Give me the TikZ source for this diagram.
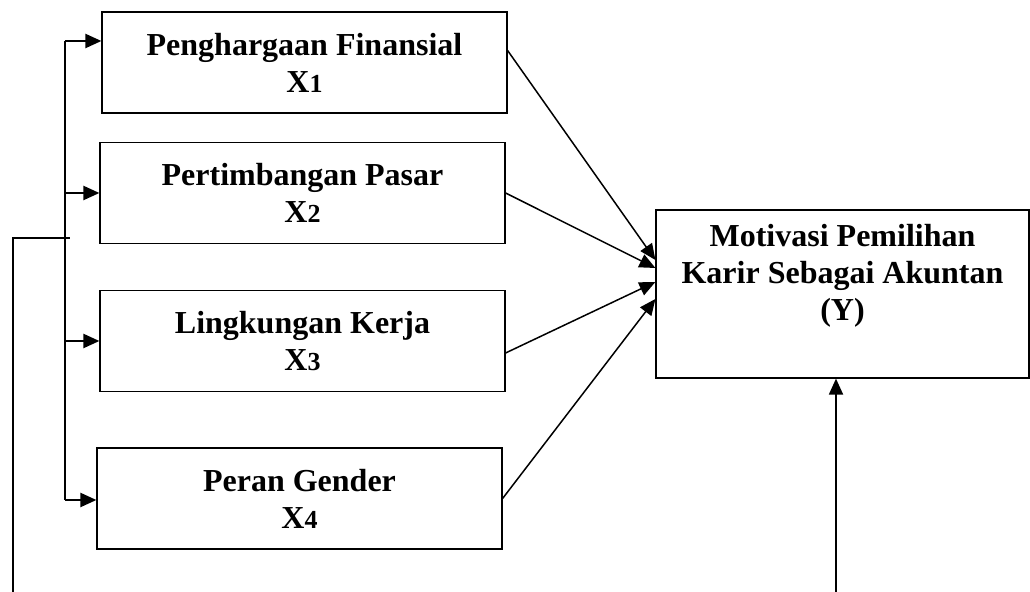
\documentclass[tikz,border=0pt]{standalone}
\usepackage{fontspec}
\setmainfont{Liberation Serif}
\usetikzlibrary{arrows.meta}
\newcommand{\vnum}[1]{{\fontsize{13}{15}\selectfont #1}}
\begin{document}
\begin{tikzpicture}[x=0.5pt, y=-0.5pt,
  var/.style={draw, line width=0.6pt, minimum width=202.5pt, minimum height=50.5pt, inner sep=0pt, align=center, font=\fontsize{16}{18.5}\selectfont\bfseries},
  tip/.style={-{Triangle[length=8pt, width=7pt]}}]
\useasboundingbox (0,0) rectangle (1030,592);
\node[var] (x1) at (304.5,62.5) {Penghargaan Finansial\\X\vnum{1}};
\node[var] (x2) at (302.5,193) {Pertimbangan Pasar\\X\vnum{2}};
\node[var] (x3) at (302.5,341) {Lingkungan Kerja\\X\vnum{3}};
\node[var] (x4) at (299.5,498.5) {Peran Gender\\X\vnum{4}};
\node[var, minimum width=186.5pt, minimum height=84pt, text depth=22pt] (y) at (842.5,294)
{Motivasi Pemilihan\\Karir Sebagai Akuntan\\(Y)};
% bracket on the left
\coordinate (bt) at (65,41);
\coordinate (bb) at (65,500);
\coordinate (jn) at (70,238);
\coordinate (lb) at (13,592);
\coordinate (rb) at (836,592);
\draw[line width=1.1pt] (bt) -- (bb);
\draw[line width=1.1pt] (lb) |- (jn);
\draw[line width=1.1pt, tip] (bt) -- (bt -| x1.west);
\draw[line width=1.1pt, tip] (bt |- x2.west) -- (x2.west);
\draw[line width=1.1pt, tip] (bt |- x3.west) -- (x3.west);
\draw[line width=1.1pt, tip] (bb) -- (bb -| x4.west);
% arrows into Y
\draw[line width=0.75pt, tip] ([yshift=6pt]x1.east) -- ([yshift=17pt]y.west);
\draw[line width=0.75pt, tip] (x2.east) -- ([yshift=13pt]y.west);
\draw[line width=0.75pt, tip] ([yshift=-6pt]x3.east) -- ([yshift=6pt]y.west);
\draw[line width=0.75pt, tip] (x4.east) -- ([yshift=-2.5pt]y.west);
\draw[line width=0.9pt, tip] (rb) -- (rb |- y.south);
\end{tikzpicture}
\end{document}
